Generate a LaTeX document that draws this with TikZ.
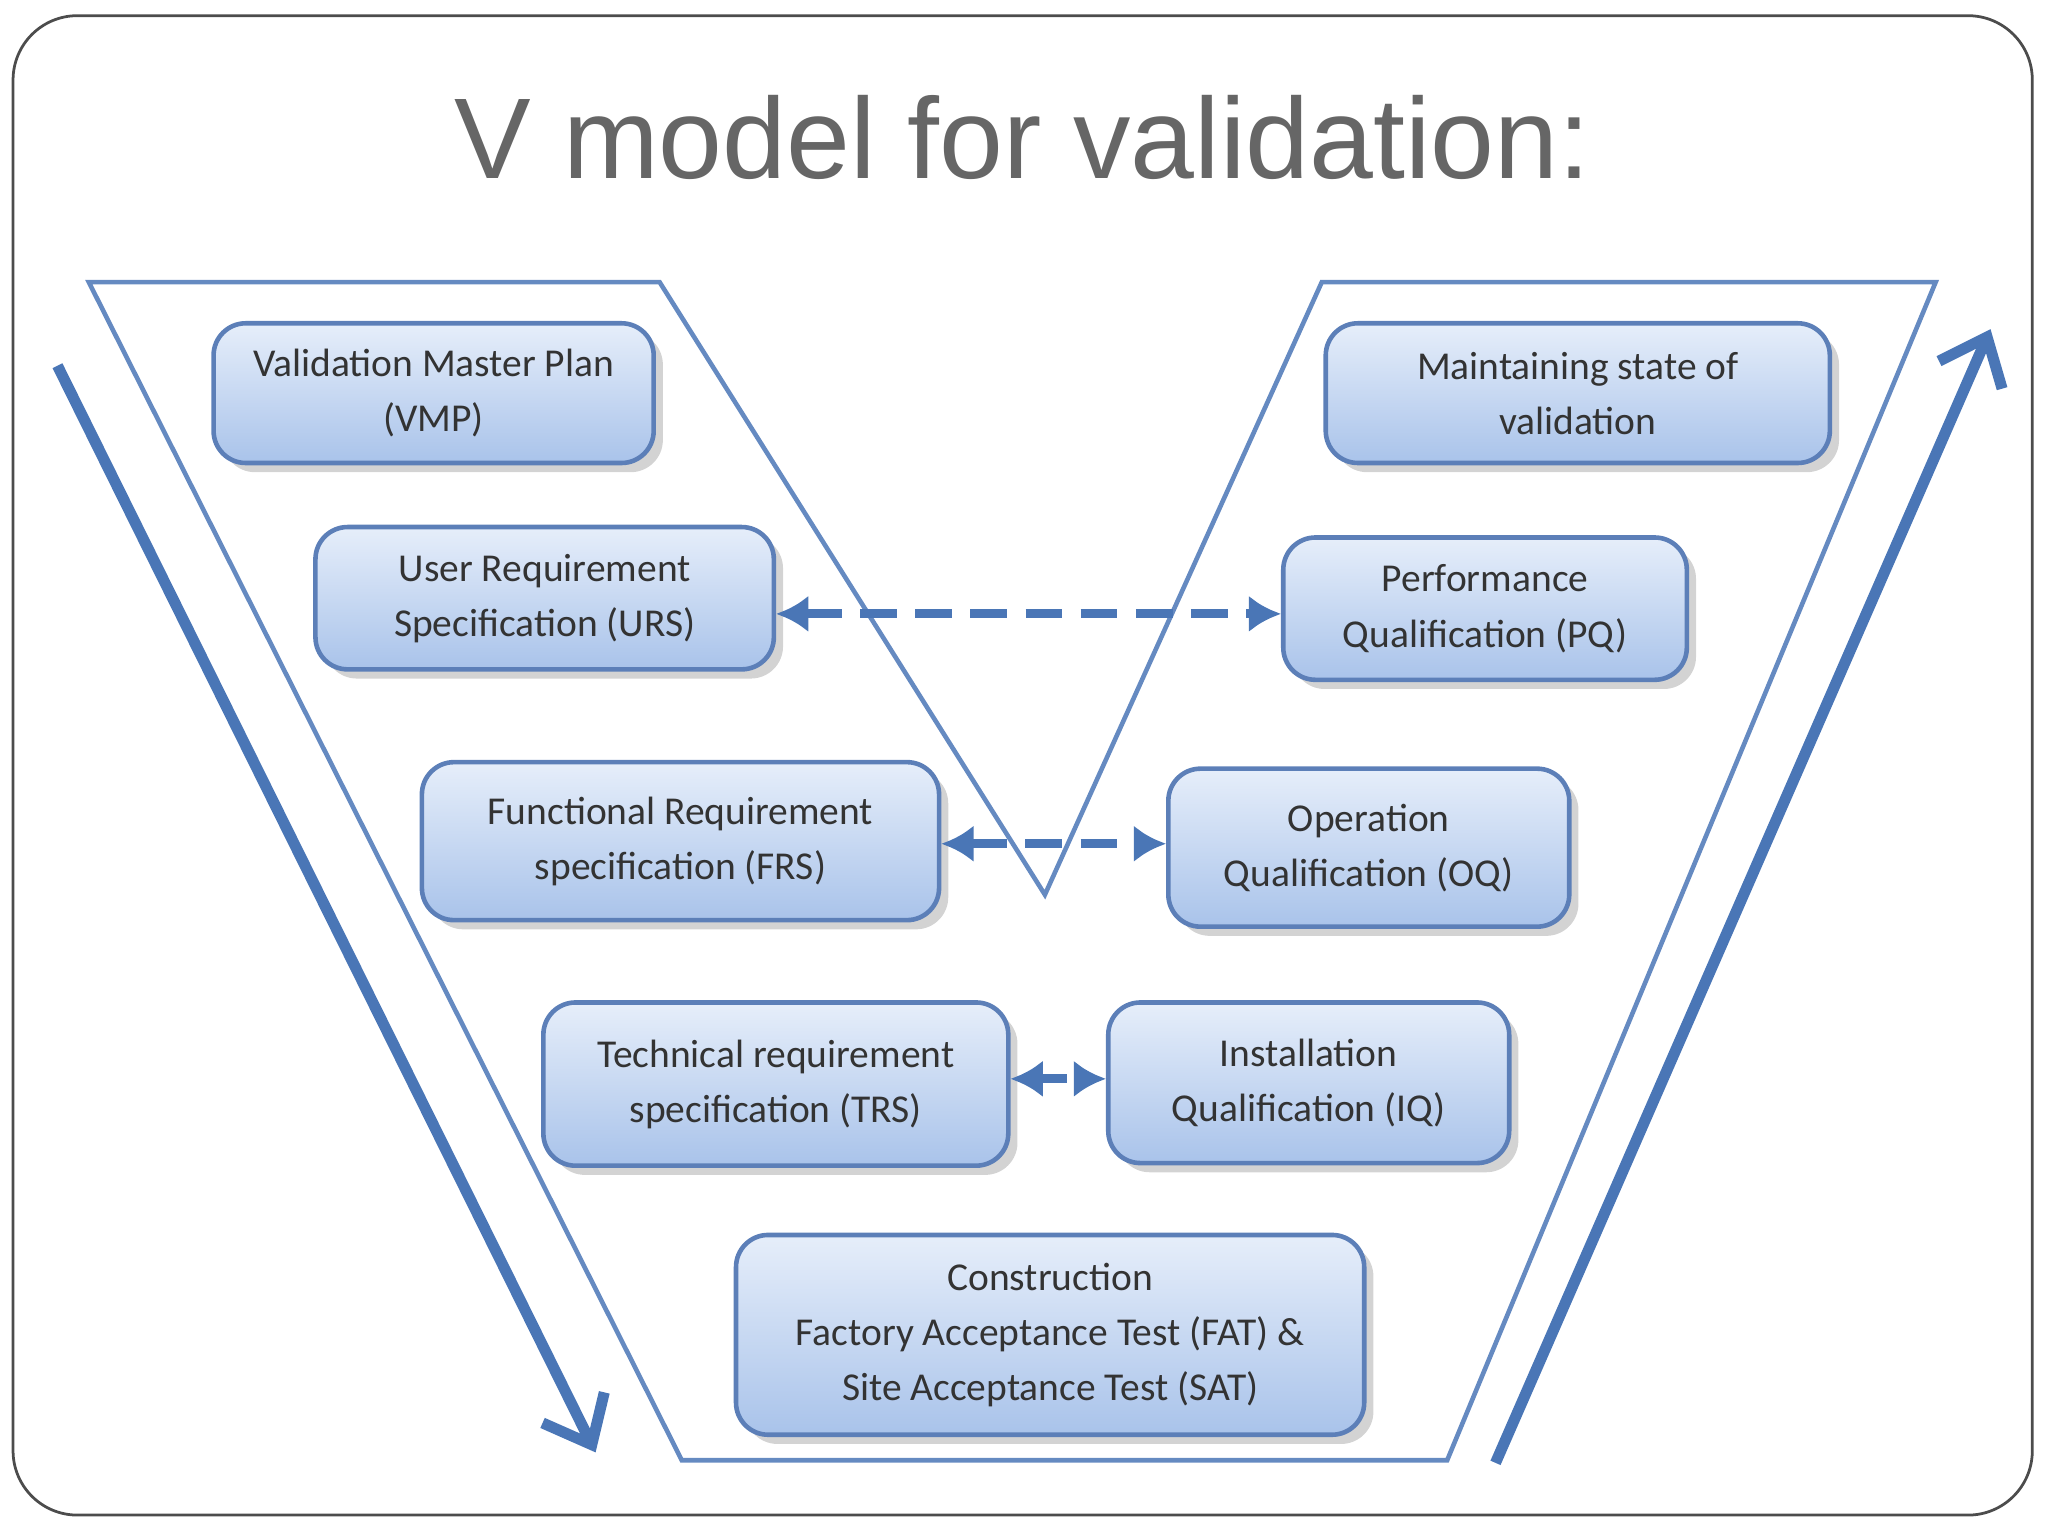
\documentclass[tikz,border=0pt]{standalone}
\usepackage{fontspec}
\setmainfont{Carlito}
\newfontfamily\titlefont{Liberation Sans}
\usetikzlibrary{arrows.meta,shadows}
\definecolor{vblue}{HTML}{4A76B6}
\definecolor{bord}{HTML}{5C7FB8}
\definecolor{btop}{HTML}{E6EEFA}
\definecolor{bbot}{HTML}{A9C3EA}
\begin{document}
\begin{tikzpicture}[x=0.01cm,y=-0.01cm,
  box/.style={draw=bord,line width=1pt,rounded corners=7pt,top color=btop,bottom color=bbot,
    drop shadow={shadow xshift=2pt,shadow yshift=-2pt,opacity=0.35},align=center,
    font=\fontsize{8.6}{12}\selectfont,text=black!80},
  darr/.style={vblue,line width=2pt,dash pattern=on 8pt off 4pt,{Latex[length=7pt,width=8pt]}-{Latex[length=7pt,width=8pt]}},
  big/.style={vblue,line width=2.4pt,-{Straight Barb[length=9pt,width=15pt,line width=2.4pt]}}]
\useasboundingbox (0,0) rectangle (1568,1176);
\draw[black!70,line width=0.6pt,rounded corners=14pt] (10,12) rectangle (1556,1160);
\node[font=\titlefont\fontsize{25}{28}\selectfont,text=black!60] (title) at (783,105) {V model for validation:};
\draw[vblue!85,line width=1pt] (68,216)--(505,216)--(800,685)--(1012,216)--(1482,216)--(1108,1118)--(522,1118)--cycle;
\newcommand\bx[6]{\node[box,minimum width=#4*0.01cm-2pt,minimum height=#5*0.01cm-2pt] (#1) at (#2,#3) {#6};}
\bx{vmp}{332}{301}{344}{114}{Validation Master Plan\\(VMP)}
\bx{urs}{417}{458}{358}{116}{User Requirement\\Specification (URS)}
\bx{frs}{521}{644}{403}{128}{Functional Requirement\\specification (FRS)}
\bx{trs}{594}{830}{363}{132}{Technical requirement\\specification (TRS)}
\bx{con}{804}{1022}{488}{160}{Construction\\Factory Acceptance Test (FAT) \&\\Site Acceptance Test (SAT)}
\bx{mvs}{1208}{301}{393}{114}{Maintaining state of\\validation}
\bx{pq}{1137}{466}{316}{116}{Performance\\Qualification (PQ)}
\bx{oq}{1048}{649}{314}{128}{Operation\\Qualification (OQ)}
\bx{iq}{1002}{829}{314}{130}{Installation\\Qualification (IQ)}
\draw[darr] (urs.east|-0,470) -- (pq.west|-0,470);
\draw[darr] (frs.east|-0,646) -- (oq.west|-0,646);
\draw[darr,dash pattern=on 6pt off 3pt] (trs.east|-0,826) -- (iq.west|-0,826);
\coordinate (l1) at (44,280); \coordinate (l2) at (456,1112);
\coordinate (r1) at (1145,1120); \coordinate (r2) at (1524,252);
\draw[big] (l1)--(l2);
\draw[big] (r1)--(r2);
\end{tikzpicture}
\end{document}
